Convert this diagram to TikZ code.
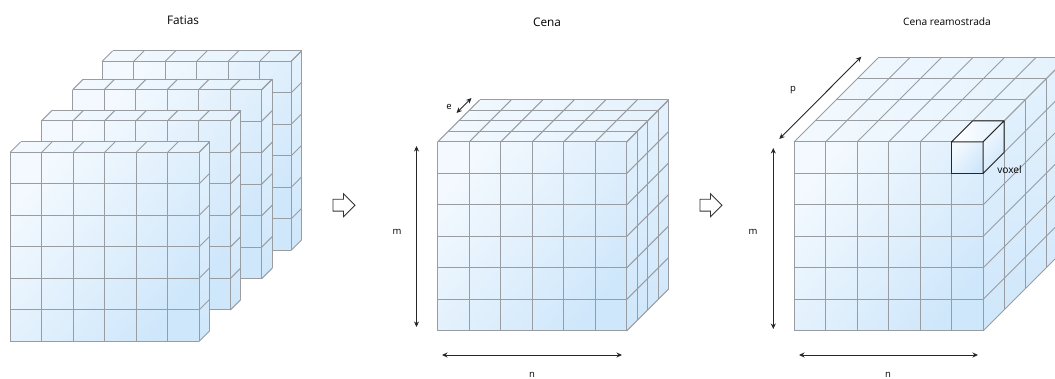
\documentclass[tikz,border=0pt]{standalone}
\usepackage{fontspec}
\setmainfont{Open Sans}
\usetikzlibrary{arrows.meta,shapes.arrows}
\definecolor{lightface}{HTML}{F3F9FE}
\definecolor{darkface}{HTML}{CFE7FB}
\definecolor{midface}{HTML}{E4F2FD}
\definecolor{gridgray}{HTML}{999DA1}
\tikzset{
  frontface/.style={top color=lightface,bottom color=darkface,shading angle=50},
  topface/.style={left color=lightface,right color=midface},
  sideface/.style={top color=midface,bottom color=darkface},
  gridline/.style={draw=gridgray,line width=1pt},
  voxelline/.style={draw=black!85,line width=1pt,line join=round},
  dim/.style={{Stealth[length=5.5pt,width=5pt]}-{Stealth[length=5.5pt,width=5pt]},draw=black!85,line width=0.9pt},
  caption/.style={font=\fontsize{11.8}{13}\selectfont,inner sep=0pt},
  longcaption/.style={font=\fontsize{10.2}{12}\selectfont,inner sep=0pt},
  small/.style={font=\fontsize{9.5}{11}\selectfont,inner sep=0pt},
  hollowarrow/.style={single arrow,draw=black!80,fill=white,line width=0.9pt,minimum height=22pt,
    inner xsep=0pt,inner ysep=5.5pt,single arrow head extend=5.5pt}
}
% x, y of the front corner, number of layers, depth of one layer
\newcommand{\gridblock}[4]{
  \begin{scope}[shift={(#1,#2)}]
    \pgfmathsetmacro{\depth}{#3*#4}
    \path[frontface] (0,0) rectangle (189,189);
    \path[topface] (0,0) -- (\depth,-\depth) -- (189+\depth,-\depth) -- (189,0) -- cycle;
    \path[sideface] (189,0) -- (189+\depth,-\depth) -- (189+\depth,189-\depth) -- (189,189) -- cycle;
    \foreach \i in {0,...,6} {
      \draw[gridline] (\i*31.5,0) -- (\i*31.5,189);
      \draw[gridline] (0,\i*31.5) -- (189,\i*31.5);
      \draw[gridline] (\i*31.5,0) -- (\i*31.5+\depth,-\depth);
      \draw[gridline] (189,\i*31.5) -- (189+\depth,\i*31.5-\depth);
    }
    \foreach \k in {1,...,#3} {
      \draw[gridline] (\k*#4,-\k*#4) -- (189+\k*#4,-\k*#4) -- (189+\k*#4,189-\k*#4);
    }
  \end{scope}
}

\begin{document}
\begin{tikzpicture}[x=1pt,y=-1pt]
  \clip (0,0) rectangle (1055,379);

  % slices
  \gridblock{102}{61.5}{1}{10.5}
  \gridblock{72.7}{89.7}{1}{10.5}
  \gridblock{41.3}{121}{1}{10.5}
  \gridblock{10}{152.5}{1}{10.5}

  % scene
  \gridblock{437.7}{142}{4}{10.5}

  % resampled scene
  \gridblock{794}{142}{4}{21}

  % voxel
  \path[frontface,voxelline,draw] (951.5,142) rectangle (983,173.5);
  \path[topface,left color=white,right color=midface,voxelline,draw] (951.5,142) -- (972.5,121) -- (1004,121) -- (983,142) -- cycle;
  \path[frontface,voxelline,draw] (983,142) -- (1004,121) -- (1004,152.5) -- (983,173.5) -- cycle;

  \node[caption] (slicestitle) at (183,20) {Fatias};
  \node[caption] (scenetitle) at (547,22) {Cena};
  \node[longcaption] (resampledtitle) at (947,22) {Cena reamostrada};

  \node[hollowarrow] (firststep) at (341,205.2) {};
  \node[hollowarrow] (secondstep) at (708,205.2) {};

  \coordinate (sceneup) at (416.5,146);
  \coordinate (scenedown) at (416.5,327);
  \coordinate (sceneleft) at (442,355);
  \coordinate (sceneright) at (622,355);
  \coordinate (layerfront) at (456.5,113);
  \coordinate (layerback) at (471.5,98);
  \coordinate (resampledup) at (773.3,148);
  \coordinate (resampleddown) at (773.3,329);
  \coordinate (resampledleft) at (799,355);
  \coordinate (resampledright) at (978,355);
  \coordinate (depthfront) at (779.3,139);
  \coordinate (depthback) at (861.3,56.7);

  \draw[dim] (sceneup) -- (scenedown);
  \draw[dim] (sceneleft) -- (sceneright);
  \draw[dim] (layerfront) -- (layerback);
  \draw[dim] (resampledup) -- (resampleddown);
  \draw[dim] (resampledleft) -- (resampledright);
  \draw[dim] (depthfront) -- (depthback);

  \node[small] (scenem) at (397,232) {m};
  \node[small] (scenen) at (532,375) {n};
  \node[small] (scenee) at (449,107) {e};
  \node[small] (resampledm) at (753,232) {m};
  \node[small] (resampledn) at (888,375) {n};
  \node[small] (resampledp) at (793,90) {p};
  \node[longcaption] (voxellabel) at (1009.5,169.5) {voxel};
\end{tikzpicture}
\end{document}
